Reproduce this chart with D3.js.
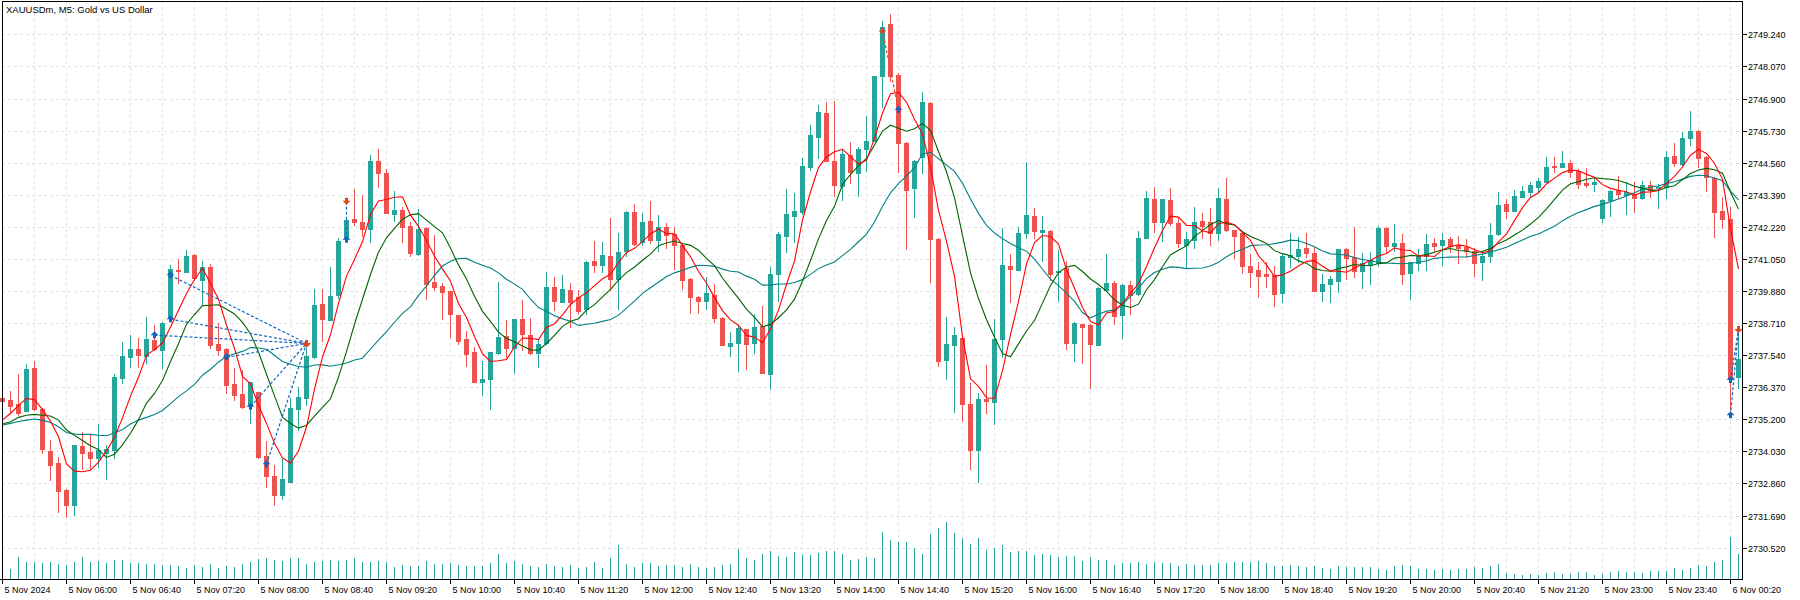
<!DOCTYPE html>
<html><head><meta charset="utf-8">
<script src="https://cdn.jsdelivr.net/npm/d3@7"></script>
<style>
html,body{margin:0;padding:0;background:#fff;}
svg{display:block;}
text{font-family:"Liberation Sans",Arial,sans-serif;fill:#000;}
</style>
</head><body>
<svg id="chart" width="1800" height="600"></svg>
<script>
// ---------------- DATA ----------------
const title = "XAUUSDm, M5:  Gold vs US Dollar";

const opens = [2735.96,2735.90,2735.76,2735.51,2737.07,2735.57,2734.05,2733.60,2732.62,2732.07,
2734.22,2734.00,2733.80,2733.96,2734.08,2736.72,2737.48,2737.76,2737.52,2738.09,
2737.73,2738.94,2740.66,2740.58,2741.19,2740.28,2740.75,2737.94,2737.76,2736.49,
2736.12,2735.72,2736.18,2733.86,2733.13,2732.44,2732.92,2735.57,2735.97,2737.46,
2739.40,2738.82,2739.73,2741.84,2742.51,2742.40,2742.13,2744.62,2744.19,2742.69,
2742.83,2742.25,2741.23,2742.19,2740.20,2740.06,2739.88,2739.00,2738.13,2737.65,
2736.57,2736.67,2737.63,2738.24,2737.79,2738.86,2738.26,2737.61,2737.97,2740.02,
2739.49,2739.92,2739.66,2739.21,2740.97,2740.84,2741.16,2740.33,2741.33,2742.76,
2741.67,2742.43,2741.74,2742.21,2741.96,2741.57,2740.32,2739.66,2739.53,2739.73,
2738.90,2737.88,2737.99,2738.49,2737.99,2738.60,2736.86,2740.51,2741.90,2742.63,
2742.76,2744.41,2745.51,2746.37,2744.62,2743.72,2744.84,2744.19,2745.07,2745.36,
2747.73,2749.62,2747.76,2745.28,2743.65,2744.78,2746.74,2741.79,2737.36,2737.91,
2738.16,2735.76,2734.08,2735.94,2735.84,2738.13,2740.79,2740.65,2742.01,2742.62,
2742.04,2742.07,2740.56,2740.71,2737.99,2738.67,2738.64,2737.92,2739.92,2740.17,
2739.00,2740.10,2739.77,2741.82,2743.23,2742.41,2743.20,2742.35,2741.56,2741.74,
2742.42,2742.39,2741.98,2743.22,2742.10,2741.98,2740.79,2740.65,2740.49,2740.46,
2739.82,2741.11,2741.17,2741.44,2741.25,2739.89,2740.12,2740.25,2741.40,2741.11,
2740.62,2740.83,2740.91,2742.19,2741.53,2741.64,2740.55,2740.89,2741.16,2741.64,
2741.56,2741.78,2741.56,2741.50,2741.35,2740.95,2741.17,2741.96,2743.05,2742.81,
2743.32,2743.50,2743.68,2743.87,2744.45,2744.41,2744.54,2744.26,2743.81,2743.77,
2742.55,2743.20,2743.56,2743.38,2743.41,2743.28,2743.75,2743.63,2743.68,2744.80,
2744.51,2745.45,2745.72,2744.78,2744.01,2742.80,2742.51,2736.75];

const highs = [2735.99,2736.24,2736.87,2737.20,2737.32,2735.60,2734.44,2733.83,2732.64,2734.28,
2734.72,2734.62,2735.03,2734.26,2736.87,2738.03,2738.27,2738.15,2738.92,2738.64,
2738.76,2740.83,2741.05,2741.37,2741.22,2740.97,2740.86,2738.70,2737.79,2737.06,
2737.00,2736.57,2736.21,2734.42,2733.55,2733.77,2735.96,2736.36,2737.79,2739.94,
2739.94,2740.77,2741.81,2742.54,2743.60,2743.38,2744.84,2745.06,2744.33,2743.53,
2742.93,2742.41,2742.87,2742.21,2741.92,2740.16,2739.88,2739.00,2738.42,2737.85,
2737.33,2737.67,2740.20,2738.82,2738.87,2739.54,2738.89,2738.12,2740.56,2740.40,
2740.46,2740.16,2739.92,2740.97,2741.70,2741.68,2742.55,2742.01,2742.78,2743.05,
2742.72,2743.16,2742.65,2742.37,2742.22,2741.59,2740.34,2739.68,2740.38,2740.15,
2738.92,2738.37,2738.64,2738.51,2739.03,2739.33,2740.74,2742.04,2743.60,2743.44,
2744.73,2745.93,2746.66,2746.78,2746.82,2745.05,2745.31,2745.14,2746.26,2747.74,
2749.73,2749.98,2747.83,2745.30,2744.65,2747.15,2746.76,2741.81,2738.94,2738.58,
2738.18,2736.53,2736.15,2737.18,2738.86,2742.17,2741.23,2742.20,2744.60,2742.90,
2742.63,2742.10,2741.37,2740.97,2738.76,2738.69,2738.66,2740.02,2741.23,2740.24,
2740.12,2740.24,2742.08,2743.53,2743.68,2743.25,2743.63,2742.53,2742.04,2742.93,
2742.74,2742.90,2743.63,2744.00,2742.12,2742.04,2741.23,2740.95,2740.95,2740.79,
2741.23,2741.98,2741.84,2741.98,2741.52,2740.50,2740.43,2741.42,2741.44,2742.22,
2741.28,2741.29,2742.25,2742.22,2742.31,2741.96,2740.95,2741.40,2741.96,2741.80,
2741.98,2741.84,2741.89,2741.78,2741.46,2741.34,2742.35,2743.50,2743.22,2743.56,
2743.72,2743.84,2743.99,2744.78,2744.78,2744.99,2744.66,2744.33,2744.38,2744.01,
2743.22,2743.55,2744.08,2743.84,2743.84,2743.89,2743.89,2743.77,2744.99,2745.27,
2745.67,2746.45,2745.74,2744.80,2744.03,2743.32,2742.95,2738.52];

const lows = [2735.84,2735.42,2735.35,2735.50,2735.54,2733.98,2732.98,2731.83,2731.64,2731.71,
2733.37,2733.37,2733.47,2733.01,2733.77,2736.53,2737.12,2737.12,2737.24,2737.73,
2737.08,2738.92,2740.18,2740.58,2740.28,2739.37,2737.79,2737.54,2736.15,2735.90,
2735.62,2735.07,2733.77,2732.72,2732.07,2732.28,2732.92,2734.81,2735.72,2737.42,
2738.07,2738.82,2739.62,2741.79,2742.29,2741.89,2741.68,2743.68,2742.72,2742.44,
2741.68,2741.17,2741.19,2739.60,2739.92,2738.86,2738.21,2737.93,2737.15,2736.55,
2736.08,2735.58,2737.57,2737.48,2736.88,2737.73,2737.59,2737.12,2737.95,2739.19,
2739.47,2738.58,2739.08,2739.04,2740.58,2740.58,2739.92,2739.23,2741.16,2741.56,
2741.56,2741.64,2741.35,2741.45,2740.68,2739.95,2739.09,2739.09,2739.22,2738.76,
2737.90,2737.52,2736.96,2737.03,2737.63,2736.88,2736.29,2739.53,2741.29,2741.68,
2742.69,2744.29,2744.74,2744.61,2743.36,2743.20,2743.81,2743.36,2744.27,2745.34,
2746.58,2747.54,2744.22,2741.41,2742.59,2744.19,2740.22,2737.15,2736.66,2735.48,
2735.15,2733.38,2732.92,2735.44,2735.03,2737.48,2739.48,2740.63,2741.80,2741.80,
2740.98,2740.28,2739.53,2737.75,2737.34,2737.26,2736.35,2737.90,2739.90,2738.67,
2738.17,2739.04,2739.73,2741.80,2742.04,2741.70,2742.29,2741.50,2740.77,2741.44,
2741.80,2741.56,2741.74,2742.08,2741.09,2740.55,2740.04,2739.65,2740.01,2739.34,
2739.49,2740.77,2740.95,2741.13,2739.87,2739.53,2739.49,2739.85,2740.31,2740.38,
2740.00,2740.12,2740.80,2741.29,2741.34,2740.13,2739.59,2740.65,2740.65,2741.31,
2740.83,2741.31,2740.91,2741.13,2740.43,2740.28,2740.95,2741.94,2742.55,2742.79,
2743.30,2743.30,2743.48,2743.85,2744.23,2744.39,2744.05,2743.63,2743.68,2743.54,
2742.41,2742.63,2743.26,2742.68,2742.77,2743.23,2743.32,2742.92,2743.28,2744.45,
2744.48,2745.21,2744.41,2743.53,2741.86,2742.19,2735.54,2736.35];

const closes = [2735.87,2735.68,2735.44,2737.03,2735.56,2734.10,2733.53,2732.59,2732.07,2734.26,
2733.98,2733.80,2734.08,2734.11,2736.75,2737.52,2737.76,2737.54,2738.13,2737.76,
2738.72,2740.68,2740.61,2741.16,2740.34,2740.75,2737.91,2737.73,2736.45,2736.08,
2735.66,2736.55,2733.83,2733.13,2732.44,2733.01,2735.61,2736.02,2737.51,2739.37,
2738.86,2739.70,2741.71,2742.47,2742.41,2742.13,2744.62,2744.19,2742.74,2742.83,
2742.20,2741.28,2742.14,2740.13,2740.04,2739.85,2739.04,2738.07,2737.58,2736.57,
2736.67,2737.65,2738.20,2737.81,2738.85,2738.32,2737.61,2737.95,2740.02,2739.53,
2739.95,2739.49,2739.16,2740.94,2740.84,2741.19,2740.33,2741.30,2742.76,2741.60,
2742.40,2741.74,2742.21,2741.91,2741.57,2740.28,2739.67,2739.53,2739.81,2738.90,
2737.92,2737.98,2738.54,2737.96,2738.58,2736.90,2740.50,2741.96,2742.69,2742.80,
2744.44,2745.57,2746.41,2744.63,2743.76,2744.88,2744.22,2745.06,2745.35,2747.72,
2749.52,2747.73,2745.29,2743.56,2744.63,2746.78,2741.79,2737.32,2737.95,2738.27,
2735.76,2734.08,2735.94,2735.88,2738.13,2740.83,2740.67,2742.01,2742.65,2742.08,
2742.10,2740.50,2740.62,2737.99,2738.70,2738.58,2737.95,2740.00,2740.16,2738.98,
2740.10,2739.73,2741.80,2743.26,2742.41,2743.23,2742.35,2741.62,2741.76,2742.39,
2742.26,2741.98,2743.26,2742.10,2741.90,2740.80,2740.58,2740.44,2740.44,2739.76,
2741.16,2741.19,2741.41,2741.28,2739.89,2740.13,2740.32,2741.40,2741.07,2740.62,
2740.89,2741.01,2742.19,2741.53,2741.64,2740.50,2740.93,2741.16,2741.59,2741.52,
2741.74,2741.52,2741.44,2741.35,2740.91,2741.16,2741.91,2743.02,2742.81,2743.34,
2743.53,2743.75,2743.89,2744.41,2744.40,2744.54,2744.21,2743.77,2743.75,2743.87,
2743.20,2743.53,2743.41,2743.48,2743.26,2743.75,2743.56,2743.68,2744.78,2744.54,
2745.45,2745.72,2744.74,2744.03,2742.77,2742.51,2736.72,2737.40];

const volumes = [300,206,446,346,346,326,346,306,286,346,
446,346,366,326,386,386,326,326,306,306,
286,286,266,226,286,246,306,226,266,246,
306,346,406,426,386,366,426,426,306,346,
366,386,366,386,426,346,346,366,346,246,
286,266,266,366,306,306,326,286,266,266,
266,326,506,326,366,306,266,246,306,266,
246,286,226,246,346,226,426,686,306,246,
326,326,266,286,286,246,306,246,226,246,
286,306,606,426,386,506,566,466,446,546,
486,486,526,566,566,506,386,406,446,426,
946,786,746,746,626,506,906,1026,1146,926,
826,706,826,586,626,686,546,566,566,486,
506,486,446,466,466,366,446,386,386,286,
326,326,346,306,346,326,326,266,306,286,
286,286,326,326,346,346,346,366,326,266,
266,286,266,246,266,226,206,266,246,246,
246,246,206,186,266,286,266,206,206,186,
206,186,206,206,246,226,266,306,126,106,
86,106,86,126,146,106,106,146,146,86,
106,146,166,146,146,126,166,166,166,226,
186,226,286,266,346,386,846,506];

// moving-average warm-up values (bars before enough history exists)
const ma5Warmup  = [2735.17,2735.42,2735.70,2735.96];
const ma10Warmup = [2735.03,2735.11,2735.27,2735.35,2735.38,2735.35,2735.32,2735.17,2734.81];
const ma20Warmup = [2734.99,2735.05,2735.12,2735.17,2735.21,2735.17,2735.08,2734.93,2734.72,2734.66,
                    2734.65,2734.65,2734.62,2734.60,2734.71,2734.83,2735.03,2735.17,2735.27];

const priceTicks = [2730.520,2731.690,2732.860,2734.030,2735.200,2736.370,2737.540,2738.710,2739.880,
                    2741.050,2742.220,2743.390,2744.560,2745.730,2746.900,2748.070,2749.240];

const timeLabels = ["5 Nov 2024","5 Nov 06:00","5 Nov 06:40","5 Nov 07:20","5 Nov 08:00","5 Nov 08:40",
 "5 Nov 09:20","5 Nov 10:00","5 Nov 10:40","5 Nov 11:20","5 Nov 12:00","5 Nov 12:40","5 Nov 13:20",
 "5 Nov 14:00","5 Nov 14:40","5 Nov 15:20","5 Nov 16:00","5 Nov 16:40","5 Nov 17:20","5 Nov 18:00",
 "5 Nov 18:40","5 Nov 19:20","5 Nov 20:00","5 Nov 20:40","5 Nov 21:20","5 Nov 23:00","5 Nov 23:40",
 "6 Nov 00:20"];
const labelEveryBars = 8;
const gridEveryBars = 4;

// trades: type, open bar, open price, close bar, close price
const tradeType   = ["buy","buy","buy","buy","buy","buy","buy","sell","buy","buy"];
const tradeOpenBar   = [21,21,19,28,31,33,43,110,216,216];
const tradeOpenPrice = [2740.45,2738.85,2738.27,2737.46,2735.66,2733.56,2741.75,2749.38,2736.63,2735.35];
const tradeCloseBar  = [38,38,38,38,38,38,43,112,217,217];
const tradeClosePrice= [2737.97,2737.97,2737.97,2737.97,2737.97,2737.97,2743.17,2746.48,2738.49,2738.49];

// ---------------- CHART ----------------
(function(){
const W = 1800, H = 600;
const pL = 2, pT = 1, pR = 1742, pB = 579;
const svg = d3.select("#chart");
svg.append("rect").attr("width",W).attr("height",H).attr("fill","#fff");

const n = closes.length;
const x = d3.scaleLinear().domain([0, n-1]).range([pL+0.5, pL+0.5+8*(n-1)]);
const y = d3.scaleLinear().domain([2729.356, 2750.44]).range([pB+0.5, pT+0.5]);
const yv = d3.scaleLinear().domain([0, 1600]).range([pB, pB-80]);

const UP = "#26a69a", DOWN = "#ef5350";

// grid
const grid = svg.append("g").attr("stroke","#e4e4e4").attr("stroke-width",1).attr("stroke-dasharray","3,3");
priceTicks.forEach(p=>{
  const yy = Math.round(y(p))+0.5;
  grid.append("line").attr("x1",pL).attr("x2",pR).attr("y1",yy).attr("y2",yy);
});
for(let i=gridEveryBars;i<n;i+=gridEveryBars){
  const xx = Math.round(x(i)-0.5)+0.5;
  grid.append("line").attr("x1",xx).attr("x2",xx).attr("y1",pT).attr("y2",pB);
}

// volumes
svg.append("g").selectAll("line").data(volumes).join("line")
  .attr("x1",(d,i)=>x(i)).attr("x2",(d,i)=>x(i))
  .attr("y1",pB).attr("y2",d=>Math.round(yv(d)))
  .attr("stroke",UP).attr("stroke-width",1);

// candles
const cg = svg.append("g");
for(let i=0;i<n;i++){
  const up = closes[i] >= opens[i];
  const col = up ? UP : DOWN;
  const cx = x(i);
  cg.append("line").attr("x1",cx).attr("x2",cx)
    .attr("y1",Math.round(y(highs[i]))).attr("y2",Math.round(y(lows[i]))+1)
    .attr("stroke",col).attr("stroke-width",1);
  const yt = Math.round(y(Math.max(opens[i],closes[i])));
  const yb = Math.round(y(Math.min(opens[i],closes[i])));
  cg.append("rect").attr("x",cx-2.5).attr("width",5)
    .attr("y",yt).attr("height",Math.max(1,yb-yt+1)).attr("fill",col);
}

// moving averages (SMA of close)
function sma(period, warm){
  return closes.map((c,i)=> i<period-1 ? warm[i] : d3.mean(closes.slice(i-period+1,i+1)));
}
const maDefs = [
  {vals: sma(20, ma20Warmup), color:"#008080"},
  {vals: sma(10, ma10Warmup), color:"#006400"},
  {vals: sma(5, ma5Warmup),  color:"#ff0000"}
];
const line = d3.line().x((d,i)=>x(i)).y(d=>y(d));
maDefs.forEach(m=>{
  svg.append("path").attr("d",line(m.vals)).attr("fill","none")
    .attr("stroke",m.color).attr("stroke-width",1.1);
});

// trades
const BLUE = "#1565c0", RED = "#e2461e";
const tg = svg.append("g");
tradeType.forEach((t,k)=>{
  tg.append("line")
    .attr("x1",x(tradeOpenBar[k])).attr("y1",y(tradeOpenPrice[k]))
    .attr("x2",x(tradeCloseBar[k])).attr("y2",y(tradeClosePrice[k]))
    .attr("stroke", t==="buy"?BLUE:RED).attr("stroke-width",1.2).attr("stroke-dasharray","3,2");
});
function upArrow(cx,cy){
  return `M${cx},${cy-4} L${cx+4},${cy} L${cx+1.5},${cy} L${cx+1.5},${cy+3} L${cx-1.5},${cy+3} L${cx-1.5},${cy} L${cx-4},${cy} Z`;
}
function downArrow(cx,cy){
  return `M${cx},${cy+4} L${cx+4},${cy} L${cx+1.5},${cy} L${cx+1.5},${cy-3} L${cx-1.5},${cy-3} L${cx-1.5},${cy} L${cx-4},${cy} Z`;
}
tradeType.forEach((t,k)=>{
  const ox = x(tradeOpenBar[k]), oy = y(tradeOpenPrice[k]);
  const cx2 = x(tradeCloseBar[k]), cy2 = y(tradeClosePrice[k]);
  if(t==="buy"){
    tg.append("path").attr("d",upArrow(ox,oy)).attr("fill",BLUE);
    tg.append("path").attr("d",downArrow(cx2,cy2)).attr("fill",RED);
  } else {
    tg.append("path").attr("d",downArrow(ox,oy)).attr("fill",RED);
    tg.append("path").attr("d",upArrow(cx2,cy2)).attr("fill",BLUE);
  }
});

// frame
const fr = svg.append("g").attr("stroke","#000").attr("stroke-width",1).attr("fill","none");
fr.append("line").attr("x1",pL+0.5).attr("x2",pL+0.5).attr("y1",pT).attr("y2",pB+1);
fr.append("line").attr("x1",pL).attr("x2",pR+1).attr("y1",pT+0.5).attr("y2",pT+0.5);
fr.append("line").attr("x1",pR+0.5).attr("x2",pR+0.5).attr("y1",pT).attr("y2",pB+1);
fr.append("line").attr("x1",0).attr("x2",pR+1).attr("y1",pB+0.5).attr("y2",pB+0.5);

// right axis
const ra = svg.append("g");
priceTicks.forEach(p=>{
  const yy = Math.round(y(p))+0.5;
  ra.append("line").attr("x1",pR+1).attr("x2",pR+5).attr("y1",yy).attr("y2",yy).attr("stroke","#000");
  ra.append("text").attr("x",pR+6).attr("y",yy+3.5).attr("font-size","9px").text(p.toFixed(3));
});

// bottom axis
const ba = svg.append("g");
timeLabels.forEach((t,k)=>{
  const xx = Math.round(x(k*labelEveryBars)-0.5)+0.5;
  ba.append("line").attr("x1",xx).attr("x2",xx).attr("y1",pB+1).attr("y2",pB+5).attr("stroke","#000");
  ba.append("text").attr("x",xx+2).attr("y",pB+14).attr("font-size","9px").text(t);
});

// title
svg.append("text").attr("x",6).attr("y",13).attr("font-size","9.5px").text(title);
})();
</script>
</body></html>
